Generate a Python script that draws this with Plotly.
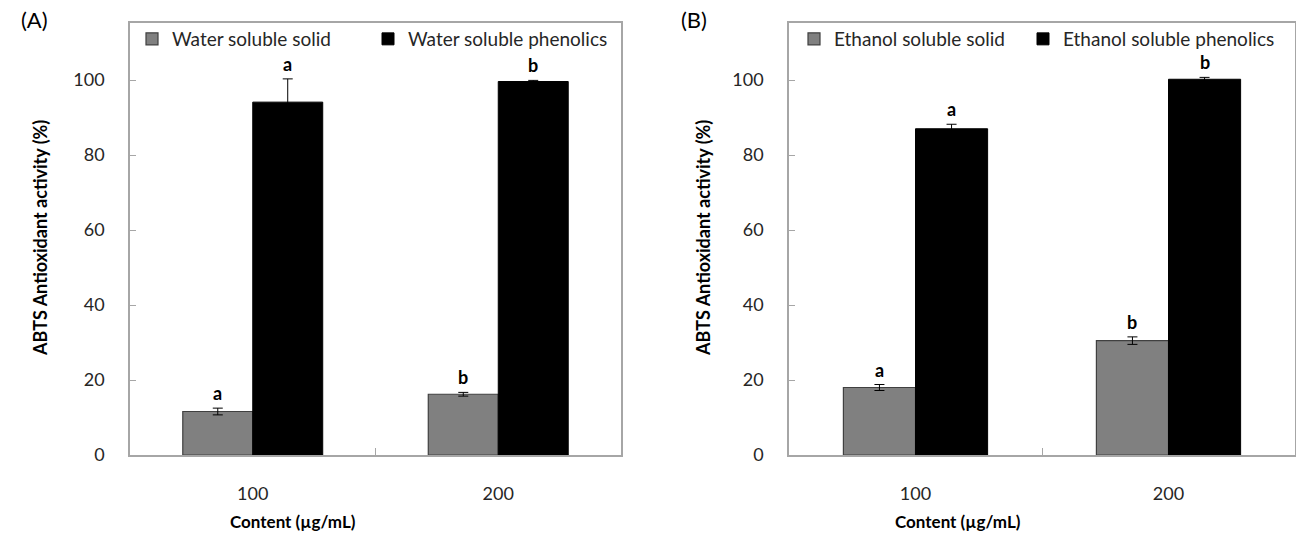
import plotly.graph_objects as go

categories = ["100", "200"]

# Panel A
a_solid = [11.6, 16.2]
a_solid_err = [0.9, 0.5]
a_phen = [94.1, 99.6]
a_phen_err = [6.2, 0.3]
a_solid_letters = ["a", "b"]
a_phen_letters = ["a", "b"]

# Panel B
b_solid = [18.0, 30.5]
b_solid_err = [0.8, 1.0]
b_phen = [87.0, 100.2]
b_phen_err = [1.2, 0.5]
b_solid_letters = ["a", "b"]
b_phen_letters = ["a", "b"]

W, H = 1296, 554
FONT = "Lato, 'Open Sans', sans-serif"
GRAY = "#808080"
BLACK = "#000000"

def px(x):
    return x / W

def py(y):
    return (H - y) / H

fig = go.Figure()

def add_panel(xa, ya, solid, solid_err, phen, phen_err, names, legends):
    fig.add_trace(go.Bar(
        x=categories, y=solid, name=names[0], xaxis=xa, yaxis=ya,
        marker=dict(color=GRAY, line=dict(color="#404040", width=1.2)),
        error_y=dict(type="data", array=solid_err, color="black", thickness=1, width=5),
        legend=legends[0], showlegend=True,
    ))
    fig.add_trace(go.Bar(
        x=categories, y=phen, name=names[1], xaxis=xa, yaxis=ya,
        marker=dict(color=BLACK, line=dict(color="#000000", width=1)),
        error_y=dict(type="data", array=phen_err, color="black", thickness=1, width=5),
        legend=legends[1], showlegend=True,
    ))

add_panel("x", "y", a_solid, a_solid_err, a_phen, a_phen_err,
          ["Water soluble solid", "Water soluble phenolics"], ["legend", "legend2"])
add_panel("x2", "y2", b_solid, b_solid_err, b_phen, b_phen_err,
          ["Ethanol soluble solid", "Ethanol soluble phenolics"], ["legend3", "legend4"])

axis_line = dict(showline=True, linecolor="#a6a6a6", linewidth=1.5, mirror=True,
                 showgrid=False, zeroline=False, automargin=False)
tickfont = dict(family=FONT, size=18, color="#262626")

xa_common = dict(type="category", ticks="inside", ticklen=7, tickcolor="#a6a6a6",
                 tickson="boundaries", tickfont=tickfont, ticklabelstandoff=22, **axis_line)
ya_common = dict(range=[0, 115.2], tickvals=[0, 20, 40, 60, 80, 100], ticks="inside",
                 ticklen=6, tickcolor="#a6a6a6", tickfont=tickfont, ticklabelstandoff=20,
                 **axis_line)

leg_font = dict(family=FONT, size=19, color="#262626")

def leg(xpix):
    return dict(x=px(xpix), y=py(20), xanchor="left", yanchor="top", orientation="h",
                font=leg_font, bgcolor="rgba(0,0,0,0)")

fig.update_layout(
    width=W, height=H,
    showlegend=True,
    margin=dict(l=0, r=0, t=0, b=0, autoexpand=False),
    paper_bgcolor="white", plot_bgcolor="white",
    barmode="group", bargap=0.43, bargroupgap=0,
    font=dict(family=FONT, color="black"),
    xaxis=dict(domain=[px(130), px(621)], anchor="y", **xa_common),
    yaxis=dict(domain=[py(455), py(23)], anchor="x", **ya_common),
    xaxis2=dict(domain=[px(789), px(1295)], anchor="y2", **xa_common),
    yaxis2=dict(domain=[py(455), py(23)], anchor="x2", **ya_common),
    legend=leg(132),
    legend2=leg(368),
    legend3=leg(794),
    legend4=leg(1023),
)

ann = []
bar_off = (1 - 0.43) / 4  # fraction of category width from center

def letters(xref, yref, vals, errs, labs, side):
    for i, (v, e, l) in enumerate(zip(vals, errs, labs)):
        ann.append(dict(x=i + side * bar_off, y=v + e, xref=xref, yref=yref, text=f"<b>{l}</b>",
                        showarrow=False, yanchor="bottom", yshift=2,
                        font=dict(family=FONT, size=18, color="black")))

letters("x", "y", a_solid, a_solid_err, a_solid_letters, -1)
letters("x", "y", a_phen, a_phen_err, a_phen_letters, 1)
letters("x2", "y2", b_solid, b_solid_err, b_solid_letters, -1)
letters("x2", "y2", b_phen, b_phen_err, b_phen_letters, 1)

title_font = dict(family=FONT, size=17, color="black")
ytitle_font = dict(family=FONT, size=18, color="black")
common = dict(xref="paper", yref="paper", showarrow=False, xanchor="center", yanchor="middle")
ann.append(dict(x=px(293), y=py(521), text="<b>Content (µg/mL)</b>", font=title_font, **common))
ann.append(dict(x=px(958), y=py(521), text="<b>Content (µg/mL)</b>", font=title_font, **common))
ann.append(dict(x=px(40), y=py(238), text="<b>ABTS Antioxidant activity (%)</b>", textangle=-90,
                font=ytitle_font, **common))
ann.append(dict(x=px(703), y=py(238), text="<b>ABTS Antioxidant activity (%)</b>", textangle=-90,
                font=ytitle_font, **common))
ann.append(dict(x=px(34), y=py(20), text="(A)", font=dict(family=FONT, size=22, color="black"), **common))
ann.append(dict(x=px(694), y=py(20), text="(B)", font=dict(family=FONT, size=22, color="black"), **common))

fig.update_layout(annotations=ann)

fig.write_html("out.html")
